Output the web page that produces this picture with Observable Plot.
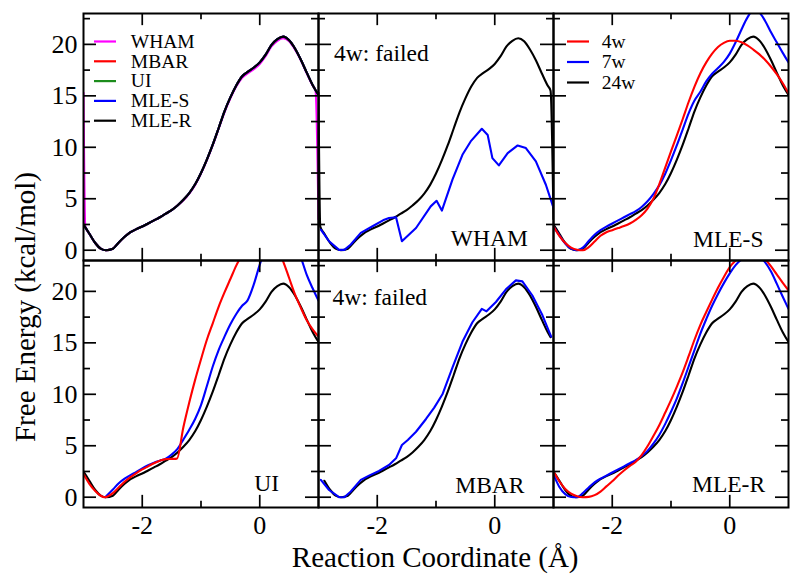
<!DOCTYPE html>
<html>
<head>
<meta charset="utf-8">
<script src="https://cdn.jsdelivr.net/npm/d3@7"></script>
<script src="https://cdn.jsdelivr.net/npm/@observablehq/plot@0.6"></script>
<style>
  body { margin: 0; background: #fff; }
  #chart { position: relative; width: 800px; height: 579px; background: #fff; }
</style>
</head>
<body>
<div id="chart"></div>
<script>
// ---------------- data ----------------
// common x grid (Å)
const grid = [-3.0,-2.9,-2.8,-2.7,-2.6,-2.5,-2.4,-2.3,-2.2,-2.1,-2.0,-1.9,-1.8,-1.7,-1.6,-1.5,-1.4,-1.3,-1.2,-1.1,-1.0,
              -0.9,-0.8,-0.7,-0.6,-0.5,-0.4,-0.3,-0.2,-0.1,0.0,0.1,0.2,0.3,0.4,0.5,0.6,0.7,0.8,0.9,1.0];

// 24-window reference profile (all methods agree)
const x24  = [-3.0,-2.9,-2.8,-2.7,-2.62,-2.5,-2.4,-2.3,-2.2,-2.1,-2.0,-1.9,-1.8,-1.7,-1.6,-1.5,-1.4,-1.3,-1.2,-1.1,-1.0,
              -0.9,-0.8,-0.7,-0.6,-0.5,-0.4,-0.3,-0.2,-0.1,0.0,0.1,0.2,0.3,0.4,0.5,0.6,0.7,0.8,0.9,0.95,1.0];
const fe24 = [2.5,1.6,0.7,0.13,0.0,0.15,0.75,1.3,1.75,2.05,2.3,2.6,2.9,3.2,3.55,3.9,4.35,4.9,5.55,6.4,7.5,
              8.8,10.25,11.85,13.5,14.85,16.0,16.9,17.35,17.75,18.25,19.0,19.95,20.5,20.75,20.4,19.6,18.5,17.25,16.05,15.55,15.1];

// WHAM, 24 windows (with its edge artefacts)
const whamX24 = [-3.0,-2.97,-2.9,-2.8,-2.7,-2.62,-2.5,-2.4,-2.3,-2.2,-2.1,-2.0,-1.9,-1.8,-1.7,-1.6,-1.5,-1.4,-1.3,-1.2,-1.1,-1.0,
                 -0.9,-0.8,-0.7,-0.6,-0.5,-0.4,-0.3,-0.2,-0.1,0.0,0.1,0.2,0.3,0.4,0.5,0.6,0.7,0.8,0.9,0.95,1.0];
const wham24  = [15.3,2.3,1.6,0.7,0.13,0.0,0.15,0.75,1.3,1.75,2.05,2.3,2.6,2.9,3.2,3.55,3.9,4.35,4.85,5.5,6.35,7.45,
                 8.75,10.2,11.8,13.4,14.75,15.9,16.75,17.2,17.6,18.1,18.85,19.8,20.35,20.6,20.3,19.5,18.45,17.2,16.0,15.5,3.0];

// WHAM, 7 windows
const wham7 = [[-2.96,2.0],[-2.82,0.87],[-2.65,0.03],[-2.56,0.03],[-2.45,0.55],[-2.28,1.68],[-2.08,2.33],[-1.88,2.97],
  [-1.80,3.13],[-1.68,3.2],[-1.58,0.87],[-1.34,2.16],[-1.09,4.26],[-0.99,4.8],[-0.90,3.85],[-0.72,6.85],[-0.55,9.27],
  [-0.41,10.57],[-0.22,11.8],[-0.12,11.2],[-0.04,8.95],[0.07,8.24],[0.22,9.43],[0.39,10.18],[0.53,9.92],[0.70,8.63],
  [0.87,6.36],[1.0,4.1]];

// MLE-S, 4 and 7 windows (on grid)
const mleS4 = [2.3,1.4,0.7,0.25,0.05,0.0,0.3,0.85,1.4,1.75,1.95,2.15,2.35,2.6,2.95,3.4,4.05,5.0,6.4,8.0,9.6,
               11.15,12.75,14.4,15.9,17.2,18.25,19.1,19.75,20.15,20.35,20.35,20.2,19.9,19.5,19.05,18.5,17.85,17.1,16.25,15.25];
const mleS7 = [2.3,1.45,0.65,0.15,0.0,0.25,0.9,1.5,1.95,2.3,2.6,2.9,3.2,3.5,3.8,4.2,4.75,5.45,6.3,7.4,8.75,
               10.2,11.75,13.3,14.55,15.4,16.4,17.15,17.7,18.3,19.1,20.2,21.45,22.6,23.3,23.1,22.3,21.2,20.2,19.2,18.25];

// UI, 4 and 7 windows
const ui4 = [[-3.0,2.25],[-2.9,1.3],[-2.8,0.6],[-2.7,0.12],[-2.65,0.0],[-2.6,0.05],[-2.5,0.4],[-2.4,0.95],[-2.3,1.5],
  [-2.2,1.95],[-2.1,2.35],[-2.0,2.7],[-1.9,3.0],[-1.8,3.3],[-1.7,3.55],[-1.6,3.7],[-1.5,3.72],[-1.41,3.75],[-1.3,6.8],
  [-1.2,9.2],[-1.1,11.4],[-1.0,13.4],[-0.9,15.3],[-0.8,16.9],[-0.7,18.5],[-0.6,19.9],[-0.5,21.2],[-0.4,22.5],[-0.3,23.6],
  [-0.2,24.8],[-0.1,25.5],[0.0,25.8],[0.1,25.7],[0.2,25.1],[0.3,24.2],[0.4,22.9],[0.5,21.3],[0.6,19.7],[0.7,18.4],
  [0.8,17.2],[0.9,16.3],[1.0,15.6]];
const ui7 = [[-2.63,0.0],[-2.5,0.75],[-2.4,1.35],[-2.3,1.8],[-2.2,2.15],[-2.1,2.45],[-2.0,2.8],[-1.9,3.1],[-1.8,3.35],
  [-1.7,3.55],[-1.6,3.75],[-1.5,4.15],[-1.4,4.7],[-1.3,5.6],[-1.2,6.55],[-1.1,7.6],[-1.0,8.95],[-0.9,10.8],[-0.8,12.7],
  [-0.7,14.3],[-0.6,15.6],[-0.5,16.8],[-0.4,17.8],[-0.3,18.6],[-0.21,19.1],[-0.1,20.7],[0.0,22.6],[0.1,24.2],[0.2,25.3],
  [0.3,25.9],[0.4,26.0],[0.5,25.6],[0.6,24.7],[0.7,23.3],[0.8,21.6],[0.9,20.3],[1.0,19.1]];

// MBAR, 7 windows
const mbar7 = [[-2.96,1.68],[-2.82,0.7],[-2.65,0.0],[-2.56,0.0],[-2.45,0.55],[-2.28,1.68],[-2.14,2.1],[-1.97,2.55],
  [-1.80,3.13],[-1.68,3.78],[-1.58,5.07],[-1.48,5.56],[-1.34,6.36],[-1.17,7.6],[-1.03,8.7],[-0.89,10.0],[-0.72,12.6],
  [-0.55,15.1],[-0.38,17.0],[-0.22,18.3],[-0.14,18.06],[0.02,18.97],[0.19,20.2],[0.36,21.07],[0.47,20.97],[0.64,19.6],
  [0.81,17.7],[0.96,15.6]];

// MLE-R, 4 and 7 windows (on grid)
const mleR4 = [2.5,1.55,0.8,0.35,0.1,0.0,0.03,0.2,0.55,1.05,1.55,2.1,2.6,3.05,3.45,4.1,4.95,5.95,7.0,8.2,9.43,
               10.75,12.15,13.7,15.3,16.75,18.0,19.2,20.35,21.4,22.35,23.0,23.45,23.75,23.85,23.65,23.15,22.45,21.65,20.85,20.1];
const mleR7 = [2.2,1.0,0.3,0.02,0.0,0.4,0.95,1.45,1.8,2.1,2.4,2.7,3.0,3.3,3.6,4.0,4.5,5.2,6.05,7.1,8.3,
               9.6,11.1,12.7,14.3,15.9,17.3,18.6,19.75,20.8,21.75,22.55,23.1,23.45,23.55,23.35,22.85,21.95,20.75,19.5,18.3];

// text
const methods = ["WHAM", "MBAR", "UI", "MLE-S", "MLE-R"];
const windowSets = ["4w", "7w", "24w"];
const panelNames = ["WHAM", "MLE-S", "UI", "MBAR", "MLE-R"];
const failedNote = "4w: failed";
const xTicks = [-2, 0];
const yTicks = [0, 5, 10, 15, 20];
const xMinorTicks = [-1];
const yMinorTicks = [2.5, 7.5, 12.5, 17.5, 22.5];
const xTitle = "Reaction Coordinate (Å)";
const yTitle = "Free Energy (kcal/mol)";

// ---------------- layout / style ----------------
const W = 800, H = 579;
const M = {top: 12, right: 12.3, bottom: 71.3, left: 82.7};
const fw = (W - M.left - M.right) / 3;
const fh = (H - M.top - M.bottom) / 2;
const FONT = "'Liberation Serif', 'Times New Roman', serif";
const C = {magenta: "#ff00ff", red: "#ff0000", green: "#1c8c1c", blue: "#0000ff", black: "#000000"};
const methodColors = [C.magenta, C.red, C.green, C.blue, C.black];
const windowColors = [C.red, C.blue, C.black];

const fromXY = (xs, ys) => xs.map((x, i) => ({x, y: ys[i]}));
const fromPairs = (p) => p.map(([x, y]) => ({x, y}));
const ref24 = fromXY(x24, fe24);

const series = [
  // panel 1: all methods, 24w
  {col: 0, row: 0, pts: fromXY(whamX24, wham24), color: C.magenta},
  {col: 0, row: 0, pts: ref24, color: C.red},
  {col: 0, row: 0, pts: ref24, color: C.green},
  {col: 0, row: 0, pts: ref24, color: C.blue},
  {col: 0, row: 0, pts: ref24, color: C.black},
  // panel 2: WHAM
  {col: 1, row: 0, pts: fromXY(whamX24, wham24), color: C.black},
  {col: 1, row: 0, pts: fromPairs(wham7), color: C.blue, curve: "linear"},
  // panel 3: MLE-S
  {col: 2, row: 0, pts: ref24, color: C.black},
  {col: 2, row: 0, pts: fromXY(grid, mleS7), color: C.blue},
  {col: 2, row: 0, pts: fromXY(grid, mleS4), color: C.red},
  // panel 4: UI
  {col: 0, row: 1, pts: ref24, color: C.black},
  {col: 0, row: 1, pts: fromPairs(ui7), color: C.blue},
  {col: 0, row: 1, pts: fromPairs(ui4), color: C.red},
  // panel 5: MBAR
  {col: 1, row: 1, pts: ref24.filter(d => d.x >= -2.9 && d.x <= 0.95), color: C.black},
  {col: 1, row: 1, pts: fromPairs(mbar7), color: C.blue, curve: "linear"},
  // panel 6: MLE-R
  {col: 2, row: 1, pts: ref24, color: C.black},
  {col: 2, row: 1, pts: fromXY(grid, mleR7), color: C.blue},
  {col: 2, row: 1, pts: fromXY(grid, mleR4), color: C.red}
];

const lineMarks = series.map(s => Plot.line(s.pts, {
  x: "x", y: "y", fx: () => s.col, fy: () => s.row,
  stroke: s.color, strokeWidth: 2.1, curve: s.curve || "monotone-x", clip: true
}));

const TICK = 13, MINOR = 7, TW = 1.7;
const tickMarks = [
  Plot.tickX(xTicks,      {x: d => d, insetTop: fh - TICK, stroke: "black", strokeWidth: TW}),
  Plot.tickX(xTicks,      {x: d => d, insetBottom: fh - TICK, stroke: "black", strokeWidth: TW}),
  Plot.tickX(xMinorTicks, {x: d => d, insetTop: fh - MINOR, stroke: "black", strokeWidth: TW}),
  Plot.tickX(xMinorTicks, {x: d => d, insetBottom: fh - MINOR, stroke: "black", strokeWidth: TW}),
  Plot.tickY(yTicks,      {y: d => d, insetRight: fw - TICK, stroke: "black", strokeWidth: TW}),
  Plot.tickY(yTicks,      {y: d => d, insetLeft: fw - TICK, stroke: "black", strokeWidth: TW}),
  Plot.tickY(yMinorTicks, {y: d => d, insetRight: fw - MINOR, stroke: "black", strokeWidth: TW}),
  Plot.tickY(yMinorTicks, {y: d => d, insetLeft: fw - MINOR, stroke: "black", strokeWidth: TW})
];

// panel labels (bottom-right)
const panelCells = [[1,0],[2,0],[0,1],[1,1],[2,1]];
const panelOffsets = [[-25.7,-14.3],[-25,-13.6],[-39.4,-17],[-29,-14.4],[-23.4,-15.7]];
const labelMarks = panelNames.map((name, i) => Plot.text([{col: panelCells[i][0], row: panelCells[i][1]}], {
  fx: "col", fy: "row", text: () => name, frameAnchor: "bottom-right", textAnchor: "end", lineAnchor: "bottom",
  dx: panelOffsets[i][0], dy: panelOffsets[i][1], fontSize: 23.5, fontFamily: FONT, fill: "black"
}));
const failedCells = [[1,0,15.6,47.3],[1,1,14,44.7]];
const failedMarks = failedCells.map(([c, r, dx, dy]) => Plot.text([{col: c, row: r}], {
  fx: "col", fy: "row", text: () => failedNote, frameAnchor: "top-left", textAnchor: "start", lineAnchor: "bottom",
  dx, dy, fontSize: 23.5, fontFamily: FONT, fill: "black"
}));

// legends
const dash = {draw(ctx, size) { const r = Math.sqrt(size / Math.PI); ctx.moveTo(-r, 0); ctx.lineTo(r, 0); }};
function legend(names, colors, col, row, swX, txX, y0, step) {
  const out = [];
  names.forEach((n, i) => {
    const cell = [{col, row}];
    out.push(Plot.dot(cell, {fx: "col", fy: "row", frameAnchor: "top-left", dx: swX, dy: y0 + i * step,
      symbol: dash, r: 11, stroke: colors[i], strokeWidth: 2.2, fill: "none"}));
    out.push(Plot.text(cell, {fx: "col", fy: "row", frameAnchor: "top-left", dx: txX, dy: y0 + i * step,
      text: () => n, textAnchor: "start", lineAnchor: "middle", fontSize: 19.5, fontFamily: FONT, fill: "black"}));
  });
  return out;
}

const chart = Plot.plot({
  width: W, height: H,
  marginTop: M.top, marginRight: M.right, marginBottom: M.bottom, marginLeft: M.left,
  style: {fontFamily: FONT, background: "white", color: "black"},
  x: {domain: [-3, 1]},
  y: {domain: [-1, 23]},
  fx: {domain: [0, 1, 2], padding: 0, axis: null},
  fy: {domain: [0, 1], padding: 0, axis: null},
  marks: [
    ...lineMarks,
    Plot.frame({stroke: "black", strokeWidth: 2}),
    ...tickMarks,
    Plot.axisX(xTicks, {anchor: "bottom", tickSize: 0, tickPadding: 8, fontSize: 26, fontFamily: FONT,
      tickFormat: d => String(d), label: null}),
    Plot.axisY(yTicks, {anchor: "left", tickSize: 0, tickPadding: 6, fontSize: 26, fontFamily: FONT,
      tickFormat: d => String(d), label: null}),
    ...labelMarks,
    ...failedMarks,
    ...legend(methods, methodColors, 0, 0, 21.5, 47.3, 28, 19.8),
    ...legend(windowSets, windowColors, 2, 0, 24.5, 48.3, 28, 20.5)
  ]
});

const svg = d3.select(chart);
svg.append("text").attr("x", M.left + (W - M.left - M.right) / 2).attr("y", 567)
  .attr("text-anchor", "middle").attr("font-size", 29).style("font-family", FONT).attr("fill", "black").text(xTitle);
svg.append("text").attr("transform", "translate(35,307) rotate(-90)")
  .attr("text-anchor", "middle").attr("font-size", 29).style("font-family", FONT).attr("fill", "black").text(yTitle);

document.getElementById("chart").appendChild(chart);
</script>
</body>
</html>
